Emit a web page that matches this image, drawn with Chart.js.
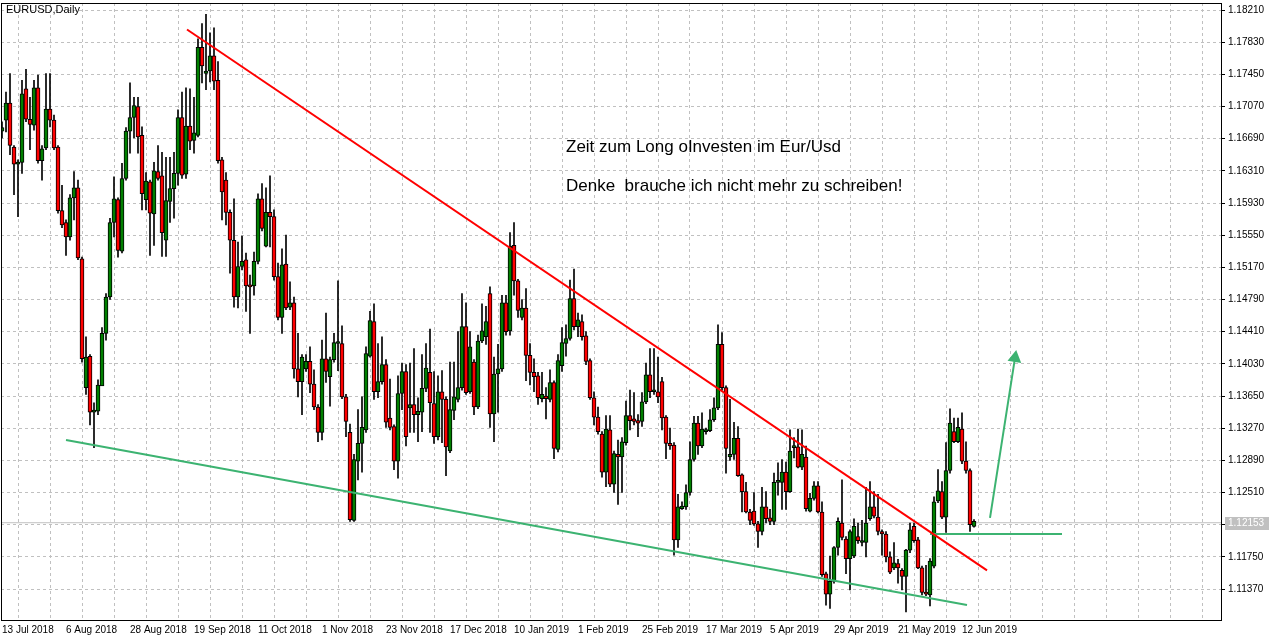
<!DOCTYPE html>
<html><head><meta charset="utf-8">
<script src="https://cdn.jsdelivr.net/npm/chart.js@4/dist/chart.umd.min.js"></script>
<style>html,body{margin:0;padding:0;background:#fff}#wrap{width:1276px;height:640px}</style>
</head><body><div id="wrap"><canvas id="c" width="1276" height="640"></canvas></div>
<script>
const dateLabels = ["13 Jul 2018","6 Aug 2018","28 Aug 2018","19 Sep 2018","11 Oct 2018","1 Nov 2018","23 Nov 2018","17 Dec 2018","10 Jan 2019","1 Feb 2019","25 Feb 2019","17 Mar 2019","5 Apr 2019","29 Apr 2019","21 May 2019","12 Jun 2019"];
const open = [1.1678,1.1691,1.1711,1.1659,1.1639,1.1641,1.1728,1.1692,1.1685,1.1729,1.1643,1.1658,1.1704,1.1691,1.1659,1.1584,1.1570,1.1553,1.1599,1.1611,
1.1527,1.1375,1.1412,1.1346,1.1347,1.1377,1.1439,1.1482,1.1570,1.1597,1.1536,1.1622,1.1678,1.1694,1.1707,1.1673,1.1597,1.1618,1.1580,1.1630,
1.1625,1.1549,1.1595,1.1610,1.1628,1.1694,1.1627,1.1684,1.1667,1.1673,1.1777,1.1746,1.1749,1.1767,1.1738,1.1644,1.1620,1.1582,1.1549,1.1482,
1.1518,1.1526,1.1496,1.1495,1.1524,1.1598,1.1542,1.1582,1.1577,1.1506,1.1458,1.1521,1.1470,1.1475,1.1397,1.1382,1.1397,1.1406,1.1379,1.1352,
1.1322,1.1409,1.1388,1.1408,1.1427,1.1427,1.1364,1.1322,1.1218,1.1288,1.1309,1.1325,1.1412,1.1453,1.1370,1.1382,1.1402,1.1339,1.1329,1.1288,
1.1368,1.1394,1.1351,1.1355,1.1343,1.1346,1.1374,1.1393,1.1356,1.1317,1.1370,1.1361,1.1300,1.1348,1.1361,1.1375,1.1447,1.1370,1.1405,1.1352,
1.1430,1.1435,1.1486,1.1344,1.1391,1.1397,1.1475,1.1442,1.1543,1.1501,1.1458,1.1469,1.1413,1.1393,1.1389,1.1362,1.1365,1.1361,1.1381,1.1302,
1.1401,1.1427,1.1433,1.1480,1.1447,1.1453,1.1436,1.1407,1.1363,1.1340,1.1320,1.1275,1.1325,1.1261,1.1296,1.1293,1.1310,1.1342,1.1338,1.1336,
1.1335,1.1358,1.1390,1.1370,1.1370,1.1382,1.1340,1.1309,1.1307,1.1195,1.1232,1.1234,1.1251,1.1290,1.1333,1.1306,1.1323,1.1324,1.1337,1.1351,
1.1426,1.1375,1.1293,1.1296,1.1315,1.1272,1.1252,1.1228,1.1229,1.1214,1.1205,1.1234,1.1221,1.1217,1.1263,1.1263,1.1275,1.1252,1.1304,1.1305,
1.1281,1.1293,1.1229,1.1244,1.1259,1.1228,1.1155,1.1131,1.1146,1.1186,1.1215,1.1196,1.1173,1.1176,1.1199,1.1192,1.1192,1.1220,1.1234,1.1222,
1.1205,1.1202,1.1175,1.1162,1.1167,1.1159,1.1152,1.1183,1.1211,1.1195,1.1162,1.1133,1.1130,1.1164,1.1241,1.1252,1.1222,1.1277,1.1323,1.1311,
1.1326,1.1288,1.1277,1.1211];
const high = [1.1689,1.1724,1.1746,1.1661,1.1644,1.1738,1.1751,1.1718,1.1738,1.1744,1.1661,1.1746,1.1746,1.1697,1.1661,1.1614,1.1573,1.1603,1.1630,1.1620,
1.1529,1.1435,1.1414,1.1357,1.1384,1.1446,1.1486,1.1575,1.1624,1.1599,1.1640,1.1682,1.1735,1.1718,1.1718,1.1683,1.1629,1.1620,1.1641,1.1661,
1.1653,1.1647,1.1647,1.1653,1.1703,1.1724,1.1729,1.1728,1.1718,1.1787,1.1805,1.1816,1.1794,1.1800,1.1760,1.1647,1.1629,1.1585,1.1598,1.1547,
1.1554,1.1534,1.1508,1.1535,1.1604,1.1616,1.1611,1.1625,1.1585,1.1522,1.1539,1.1555,1.1500,1.1482,1.1439,1.1414,1.1414,1.1423,1.1396,1.1355,
1.1431,1.1463,1.1411,1.1439,1.1501,1.1448,1.1367,1.1332,1.1296,1.1349,1.1364,1.1423,1.1465,1.1474,1.1427,1.1435,1.1408,1.1385,1.1331,1.1389,
1.1404,1.1402,1.1404,1.1421,1.1363,1.1414,1.1427,1.1444,1.1394,1.1389,1.1395,1.1364,1.1405,1.1405,1.1441,1.1486,1.1475,1.1441,1.1408,1.1437,
1.1474,1.1471,1.1494,1.1411,1.1426,1.1484,1.1484,1.1558,1.1570,1.1503,1.1479,1.1492,1.1427,1.1409,1.1393,1.1393,1.1375,1.1396,1.1383,1.1414,
1.1446,1.1449,1.1502,1.1515,1.1463,1.1461,1.1441,1.1409,1.1370,1.1352,1.1323,1.1342,1.1342,1.1300,1.1313,1.1316,1.1359,1.1372,1.1369,1.1343,
1.1369,1.1404,1.1421,1.1421,1.1411,1.1387,1.1342,1.1327,1.1310,1.1249,1.1240,1.1260,1.1311,1.1341,1.1341,1.1345,1.1327,1.1349,1.1363,1.1449,
1.1440,1.1377,1.1361,1.1334,1.1329,1.1273,1.1263,1.1231,1.1251,1.1217,1.1257,1.1252,1.1231,1.1274,1.1286,1.1290,1.1287,1.1325,1.1316,1.1326,
1.1325,1.1306,1.1250,1.1264,1.1264,1.1240,1.1157,1.1176,1.1187,1.1221,1.1266,1.1199,1.1207,1.1220,1.1215,1.1218,1.1257,1.1264,1.1252,1.1249,
1.1207,1.1205,1.1181,1.1192,1.1172,1.1161,1.1184,1.1215,1.1215,1.1198,1.1164,1.1165,1.1173,1.1246,1.1278,1.1264,1.1310,1.1350,1.1339,1.1339,
1.1345,1.1311,1.1279,1.1219];
const low = [1.1670,1.1677,1.1650,1.1603,1.1577,1.1628,1.1689,1.1656,1.1679,1.1640,1.1620,1.1656,1.1683,1.1656,1.1581,1.1564,1.1531,1.1549,1.1573,1.1526,
1.1405,1.1367,1.1331,1.1304,1.1343,1.1396,1.1431,1.1479,1.1553,1.1529,1.1534,1.1620,1.1652,1.1670,1.1652,1.1585,1.1585,1.1531,1.1543,1.1620,
1.1530,1.1530,1.1570,1.1575,1.1614,1.1622,1.1622,1.1656,1.1652,1.1671,1.1735,1.1727,1.1736,1.1727,1.1640,1.1573,1.1567,1.1510,1.1470,1.1469,
1.1514,1.1465,1.1439,1.1484,1.1521,1.1560,1.1541,1.1541,1.1502,1.1455,1.1439,1.1467,1.1467,1.1386,1.1364,1.1343,1.1394,1.1369,1.1349,1.1311,
1.1313,1.1381,1.1353,1.1405,1.1395,1.1362,1.1317,1.1217,1.1217,1.1266,1.1275,1.1322,1.1411,1.1361,1.1363,1.1379,1.1328,1.1325,1.1278,1.1268,
1.1349,1.1306,1.1322,1.1322,1.1311,1.1323,1.1370,1.1322,1.1309,1.1313,1.1310,1.1271,1.1298,1.1337,1.1358,1.1372,1.1367,1.1368,1.1343,1.1350,
1.1428,1.1426,1.1328,1.1311,1.1346,1.1394,1.1437,1.1437,1.1484,1.1458,1.1455,1.1383,1.1378,1.1370,1.1355,1.1358,1.1338,1.1358,1.1291,1.1299,
1.1394,1.1412,1.1431,1.1443,1.1435,1.1431,1.1402,1.1361,1.1331,1.1320,1.1269,1.1258,1.1258,1.1251,1.1237,1.1251,1.1307,1.1325,1.1331,1.1317,
1.1329,1.1356,1.1363,1.1367,1.1357,1.1325,1.1291,1.1302,1.1177,1.1186,1.1231,1.1231,1.1248,1.1288,1.1296,1.1304,1.1320,1.1323,1.1335,1.1349,
1.1372,1.1274,1.1289,1.1290,1.1270,1.1228,1.1227,1.1213,1.1212,1.1186,1.1201,1.1215,1.1213,1.1213,1.1248,1.1231,1.1231,1.1251,1.1292,1.1280,
1.1278,1.1229,1.1228,1.1242,1.1227,1.1152,1.1118,1.1114,1.1144,1.1177,1.1195,1.1155,1.1136,1.1174,1.1191,1.1188,1.1175,1.1218,1.1221,1.1201,
1.1177,1.1169,1.1155,1.1160,1.1144,1.1136,1.1110,1.1180,1.1192,1.1161,1.1130,1.1129,1.1117,1.1162,1.1239,1.1220,1.1204,1.1274,1.1310,1.1310,
1.1285,1.1274,1.1205,1.1210];
const close = [1.1682,1.1711,1.1661,1.1639,1.1641,1.1722,1.1692,1.1686,1.1729,1.1643,1.1657,1.1704,1.1691,1.1658,1.1584,1.1567,1.1553,1.1599,1.1611,1.1528,
1.1409,1.1411,1.1346,1.1347,1.1378,1.1439,1.1482,1.1570,1.1598,1.1537,1.1622,1.1678,1.1694,1.1708,1.1671,1.1604,1.1619,1.1581,1.1631,1.1622,
1.1558,1.1596,1.1610,1.1628,1.1694,1.1626,1.1684,1.1666,1.1676,1.1777,1.1755,1.1749,1.1767,1.1737,1.1643,1.1606,1.1582,1.1549,1.1482,1.1518,
1.1524,1.1495,1.1494,1.1524,1.1598,1.1563,1.1582,1.1577,1.1506,1.1458,1.1520,1.1469,1.1475,1.1397,1.1382,1.1411,1.1406,1.1379,1.1352,1.1322,
1.1409,1.1394,1.1408,1.1428,1.1428,1.1364,1.1335,1.1219,1.1290,1.1309,1.1328,1.1415,1.1454,1.1370,1.1382,1.1402,1.1334,1.1328,1.1288,1.1368,
1.1394,1.1317,1.1355,1.1343,1.1347,1.1374,1.1398,1.1357,1.1317,1.1370,1.1361,1.1305,1.1349,1.1364,1.1375,1.1447,1.1369,1.1423,1.1352,1.1430,
1.1442,1.1453,1.1344,1.1391,1.1397,1.1475,1.1441,1.1542,1.1501,1.1466,1.1469,1.1413,1.1393,1.1388,1.1363,1.1367,1.1362,1.1381,1.1303,1.1407,
1.1428,1.1433,1.1480,1.1447,1.1455,1.1435,1.1406,1.1363,1.1340,1.1323,1.1275,1.1326,1.1261,1.1297,1.1293,1.1311,1.1342,1.1336,1.1335,1.1333,
1.1358,1.1390,1.1370,1.1371,1.1364,1.1339,1.1309,1.1306,1.1195,1.1234,1.1235,1.1251,1.1290,1.1333,1.1306,1.1326,1.1324,1.1337,1.1351,1.1426,
1.1375,1.1303,1.1296,1.1315,1.1271,1.1252,1.1228,1.1218,1.1214,1.1205,1.1234,1.1220,1.1217,1.1263,1.1264,1.1275,1.1252,1.1300,1.1305,1.1281,
1.1296,1.1232,1.1244,1.1259,1.1228,1.1154,1.1131,1.1146,1.1186,1.1217,1.1198,1.1173,1.1205,1.1211,1.1194,1.1193,1.1215,1.1234,1.1223,1.1205,
1.1202,1.1175,1.1157,1.1168,1.1162,1.1152,1.1183,1.1207,1.1194,1.1162,1.1133,1.1131,1.1170,1.1240,1.1253,1.1222,1.1277,1.1333,1.1311,1.1328,
1.1288,1.1277,1.1213,1.1217];
const lastPrice = 1.12153;
const yTickStart = 1.11370, yTickStep = 0.0038, yTickCount = 19;
const resistance = [{x:46.25,y:1.1798},{x:246.25,y:1.1159}];
const support = [{x:16,y:1.1313},{x:241.25,y:1.1118}];
const breakoutLevel = [{x:232,y:1.1202},{x:265,y:1.1202}];
const arrow = [{x:247,y:1.1221},{x:253.25,y:1.1410}];
const notes = ["Zeit zum Long oInvesten im Eur/Usd","Denke  brauche ich nicht mehr zu schreiben!"];

const UP='#008000', DN='#ff0000';
const bodies = open.map((o,i)=>({x:i,y:[o,close[i]]}));
const wicks = open.map((o,i)=>({x:i,y:[low[i],high[i]]}));
const bodyColors = open.map((o,i)=> close[i]>=o?UP:DN);

const deco = {
  id:'deco',
  beforeDraw(ch){const c=ch.ctx;c.save();c.fillStyle='#fff';c.fillRect(0,0,ch.width,ch.height);c.restore();},
  afterDraw(ch){
    const c=ch.ctx, a=ch.chartArea, ys=ch.scales.y;
    c.save();
    c.strokeStyle='#000';c.lineWidth=1;
    c.strokeRect(a.left+0.5,a.top+0.5,a.right-a.left-1,a.bottom-a.top);
    c.font='11px "Liberation Sans", Arial';c.fillStyle='#000';c.textBaseline='middle';
    c.fillText('EURUSD,Daily',6,10);
    c.font='17px "Liberation Sans", Arial';
    c.fillText(notes[0],566,147);
    c.fillText(notes[1],566,186);
    const py=Math.round(ys.getPixelForValue(lastPrice));
    c.fillStyle='#c0c0c0';c.fillRect(a.right+3,py-6,44,13);
    c.fillStyle='#fff';c.font='10px "Liberation Sans", Arial';
    c.fillText(lastPrice.toFixed(5),a.right+6,py+0.5);
    c.restore();
  }
};

new Chart(document.getElementById('c'),{
  type:'bar',
  data:{datasets:[
    {type:'line',data:[{x:-1,y:lastPrice},{x:310,y:lastPrice}],borderColor:'#c0c0c0',borderWidth:1,pointRadius:0,order:5},
    {data:wicks,backgroundColor:'#000',barThickness:1,grouped:false,order:4},
    {data:bodies,backgroundColor:bodyColors,borderColor:'#000',borderWidth:1,borderSkipped:false,barThickness:4,minBarLength:2,grouped:false,order:3},
    {type:'line',data:resistance,borderColor:'#ff0000',borderWidth:2,pointRadius:0,order:1},
    {type:'line',data:support,borderColor:'#3cb371',borderWidth:2,pointRadius:0,order:1},
    {type:'line',data:breakoutLevel,borderColor:'#3cb371',borderWidth:2,pointRadius:0,order:1},
    {type:'line',data:arrow,borderColor:'#3cb371',borderWidth:2,order:1,
      pointRadius:[0,6],pointStyle:'triangle',pointRotation:9,pointBackgroundColor:'#3cb371',pointBorderColor:'#3cb371'}
  ]},
  options:{
    responsive:false,animation:false,devicePixelRatio:1,
    layout:{autoPadding:false,padding:{top:3,left:1,right:0,bottom:0}},
    plugins:{legend:{display:false},tooltip:{enabled:false}},
    scales:{
      x:{type:'linear',min:-0.25,max:305,offset:false,
        afterBuildTicks(s){const t=[];for(let i=8;i<=304;i+=8)t.push({value:i});t.unshift({value:0});s.ticks=t;},
        afterFit(s){s.height=20;s.paddingLeft=0;s.paddingRight=0;},
        grid:{color:'#c0c0c0',drawTicks:false,lineWidth:(ctx)=>ctx.tick&&ctx.tick.value===0?0:1},
        border:{display:false,dash:[3,3]},
        ticks:{autoSkip:false,maxRotation:0,align:'start',padding:4,color:'#000',font:{family:'"Liberation Sans", Arial',size:10},
          callback:(v)=> v%16===0 && dateLabels[v/16]!==undefined ? dateLabels[v/16] : ''}
      },
      y:{position:'right',min:1.11004,max:1.18293,
        afterBuildTicks(s){const t=[];for(let k=0;k<yTickCount;k++)t.push({value:+(yTickStart+k*yTickStep).toFixed(5)});s.ticks=t;},
        afterFit(s){s.width=54;s.paddingTop=0;s.paddingBottom=0;},
        grid:{color:'#c0c0c0',drawTicks:true,tickLength:3,tickColor:'#000'},
        border:{display:false,dash:[3,3]},
        ticks:{padding:3,color:'#000',font:{family:'"Liberation Sans", Arial',size:10},callback:(v)=>Number(v).toFixed(5)}
      }
    }
  },
  plugins:[deco]
});
</script></body></html>
